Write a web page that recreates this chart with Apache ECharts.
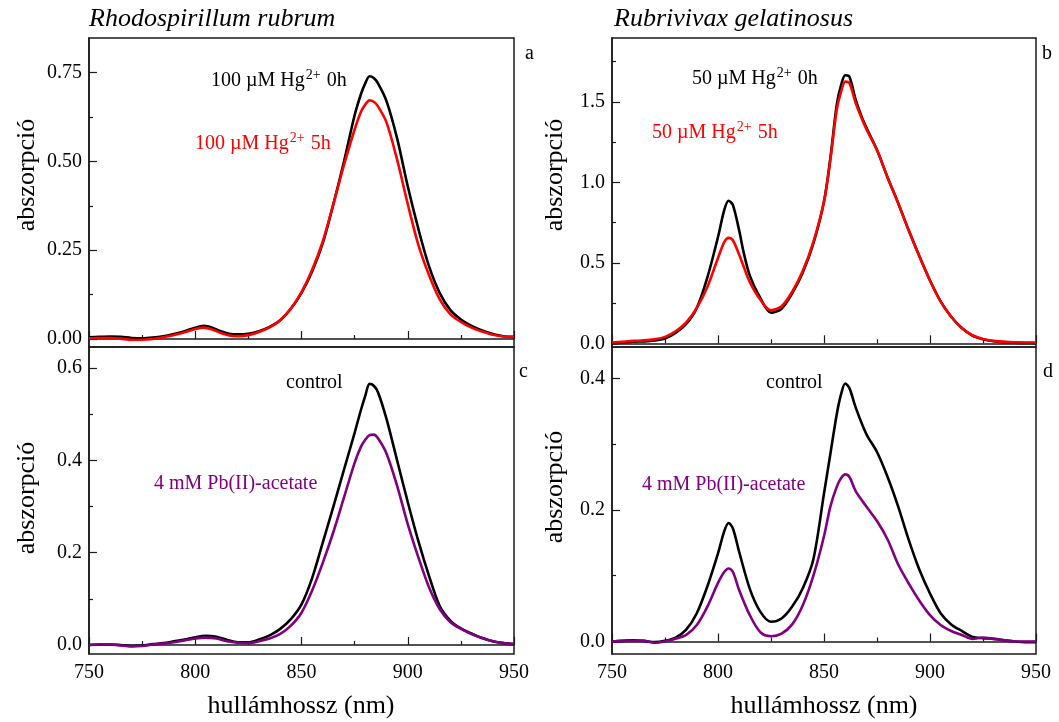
<!DOCTYPE html>
<html>
<head>
<meta charset="utf-8">
<script src="https://cdn.jsdelivr.net/npm/echarts@6/dist/echarts.min.js"></script>
<style>
  html, body { margin: 0; padding: 0; background: #fff; }
  #chart { width: 1059px; height: 722px; }
</style>
</head>
<body>
<div id="chart"></div>
<script>
// Absorption spectra (nm vs absorbance) for two purple bacteria.

// (a) Rhodospirillum rubrum, 100 µM Hg2+
const nmA = [750,755,760,765,770,775,780,785,790,795,800,804,808,812,816,820,825,830,835,840,845,850,855,860,865,870,875,878,880,882,884,886,890,895,900,905,910,915,920,925,930,935,940,945,950];
const absA0h = [0.005,0.006,0.007,0.006,0.003,0.002,0.004,0.008,0.014,0.022,0.032,0.037,0.032,0.022,0.015,0.013,0.015,0.022,0.034,0.053,0.085,0.13,0.19,0.27,0.38,0.50,0.63,0.69,0.72,0.74,0.735,0.72,0.67,0.565,0.43,0.31,0.205,0.13,0.082,0.055,0.037,0.024,0.014,0.008,0.006];
const absA5h = [0.002,0.003,0.003,0.001,-0.002,-0.002,0.0,0.005,0.011,0.019,0.028,0.032,0.027,0.017,0.010,0.008,0.011,0.020,0.033,0.053,0.086,0.132,0.195,0.275,0.38,0.49,0.59,0.64,0.66,0.672,0.668,0.655,0.61,0.505,0.38,0.265,0.18,0.112,0.07,0.048,0.032,0.021,0.012,0.007,0.006];

// (b) Rubrivivax gelatinosus, 50 µM Hg2+
const nmB = [750,755,760,765,770,775,780,785,790,795,800,803,805,807,810,812,815,820,825,830,835,840,845,850,853,856,858,860,862,865,868,870,875,880,885,890,895,900,905,910,915,920,925,930,935,940,945,950];
const absB0h = [0.0,0.005,0.01,0.012,0.017,0.03,0.065,0.12,0.22,0.41,0.66,0.83,0.885,0.86,0.70,0.57,0.42,0.28,0.19,0.215,0.31,0.44,0.62,0.88,1.15,1.48,1.60,1.665,1.655,1.51,1.40,1.34,1.20,1.03,0.87,0.70,0.54,0.39,0.26,0.165,0.095,0.048,0.025,0.013,0.007,0.004,0.002,0.001];
const absB5h = [0.005,0.01,0.015,0.018,0.025,0.04,0.075,0.13,0.22,0.35,0.53,0.63,0.655,0.64,0.55,0.48,0.38,0.27,0.205,0.23,0.32,0.45,0.63,0.88,1.14,1.45,1.56,1.625,1.615,1.49,1.39,1.33,1.20,1.03,0.87,0.70,0.54,0.39,0.26,0.165,0.095,0.05,0.027,0.015,0.009,0.006,0.005,0.005];

// (c) Rhodospirillum rubrum, Pb(II)-acetate
const nmC = [750,755,760,765,770,775,780,785,790,795,800,805,810,815,820,825,830,835,840,845,850,855,860,865,870,875,878,880,882,884,886,890,895,900,905,910,915,920,925,930,935,940,945,950];
const absCcontrol = [0.0,0.001,0.001,0.0,-0.002,-0.001,0.002,0.004,0.008,0.012,0.017,0.02,0.018,0.011,0.006,0.006,0.012,0.021,0.035,0.056,0.088,0.145,0.222,0.30,0.38,0.46,0.51,0.54,0.566,0.562,0.548,0.49,0.40,0.31,0.225,0.15,0.085,0.053,0.036,0.025,0.015,0.008,0.004,0.002];
const absCpb = [0.0,0.001,0.001,-0.001,-0.003,-0.002,0.001,0.003,0.006,0.010,0.014,0.016,0.014,0.008,0.005,0.004,0.008,0.014,0.024,0.042,0.07,0.118,0.178,0.245,0.32,0.395,0.43,0.445,0.455,0.456,0.448,0.415,0.345,0.262,0.19,0.125,0.078,0.05,0.035,0.024,0.015,0.008,0.004,0.002];

// (d) Rubrivivax gelatinosus, Pb(II)-acetate
const nmD = [750,755,760,765,770,775,780,785,790,795,800,803,805,807,810,815,820,825,830,835,840,845,850,853,856,858,860,862,865,870,875,880,885,890,895,900,905,910,915,920,925,930,935,940,945,950];
const absDcontrol = [0.0,0.001,0.002,0.001,-0.001,0.001,0.006,0.018,0.043,0.084,0.134,0.168,0.18,0.172,0.136,0.08,0.045,0.03,0.035,0.053,0.081,0.125,0.225,0.285,0.345,0.375,0.392,0.385,0.355,0.315,0.288,0.25,0.205,0.154,0.109,0.073,0.043,0.026,0.016,0.007,0.005,0.004,0.002,0.0,-0.001,-0.001];
const absDpb = [0.0,0.001,0.001,0.001,-0.002,0.0,0.004,0.01,0.025,0.053,0.089,0.106,0.111,0.106,0.078,0.04,0.014,0.008,0.012,0.026,0.055,0.10,0.16,0.205,0.235,0.248,0.254,0.25,0.228,0.205,0.183,0.155,0.117,0.088,0.062,0.04,0.025,0.016,0.01,0.004,0.006,0.004,0.002,0.0,0.0,0.0];

// Axis ticks
const xTicks = [750, 800, 850, 900, 950];
const yTicksA = [0, 0.25, 0.5, 0.75];
const yMinorA = [0.125, 0.375, 0.625];
const yTicksB = [0, 0.5, 1.0, 1.5];
const yMinorB = [0.25, 0.75, 1.25, 1.75];
const yTicksC = [0, 0.2, 0.4, 0.6];
const yMinorC = [0.1, 0.3, 0.5];
const yTicksD = [0, 0.2, 0.4];
const yMinorD = [0.1, 0.3];

const SERIF = '"Liberation Serif", "Times New Roman", serif';
const AXIS_COLOR = '#1a1a1a';
const BLACK = '#000000';
const RED = '#ff0000';
const PURPLE = '#800080';

const pair = (xs, ys) => xs.map((x, i) => [x, ys[i]]);

const grids = [
  { left: 89,  top: 38,  width: 425, height: 309 },
  { left: 612, top: 38,  width: 424, height: 309 },
  { left: 89,  top: 347, width: 425, height: 307 },
  { left: 612, top: 347, width: 424, height: 307 }
];

const panels = [
  { min: -0.0225, max: 0.8476, major: yTicksA, minor: yMinorA, dec: 2 },
  { min: -0.023,  max: 1.896,  major: yTicksB, minor: yMinorB, dec: 1 },
  { min: -0.0195, max: 0.646,  major: yTicksC, minor: yMinorC, dec: 1 },
  { min: -0.019,  max: 0.4475, major: yTicksD, minor: yMinorD, dec: 1 }
];

const xAxes = grids.map((g, i) => ({
  type: 'value', gridIndex: i, min: xTicks[0], max: xTicks[xTicks.length - 1], interval: 50,
  position: 'bottom',
  axisLine: { show: true, lineStyle: { color: AXIS_COLOR, width: 1.5 } },
  axisTick: { show: true, inside: true, length: 8, lineStyle: { color: AXIS_COLOR, width: 1.2 } },
  minorTick: { show: true, splitNumber: 2, length: 4, lineStyle: { color: AXIS_COLOR, width: 1.2 } },
  axisLabel: { show: i >= 2, color: '#000', fontFamily: SERIF, fontSize: 20, margin: 9 },
  splitLine: { show: false }
}));

const yAxes = [];
panels.forEach((p, i) => {
  // labelled axis with the major ticks
  yAxes.push({
    type: 'value', gridIndex: i, min: p.min, max: p.max, position: 'left',
    axisLine: { show: true, lineStyle: { color: AXIS_COLOR, width: 1.5 } },
    axisTick: { show: true, inside: true, length: 8, customValues: p.major, lineStyle: { color: AXIS_COLOR, width: 1.2 } },
    axisLabel: { show: true, customValues: p.major, color: '#000', fontFamily: SERIF, fontSize: 20, margin: 7,
                 formatter: v => Number(v).toFixed(p.dec) },
    splitLine: { show: false }
  });
  // companion axis carrying only the short minor ticks
  yAxes.push({
    type: 'value', gridIndex: i, min: p.min, max: p.max, position: 'left', offset: 0,
    axisLine: { show: false },
    axisTick: { show: true, inside: true, length: 4, customValues: p.minor, lineStyle: { color: AXIS_COLOR, width: 1.2 } },
    axisLabel: { show: false },
    splitLine: { show: false }
  });
});

function line(name, gi, xs, ys, color) {
  return {
    name, type: 'line', xAxisIndex: gi, yAxisIndex: gi * 2,
    data: pair(xs, ys), smooth: 0.3, showSymbol: false, symbol: 'none',
    lineStyle: { color, width: 2.6 }, itemStyle: { color }, z: 3
  };
}

const series = [
  line('100 µM Hg2+ 0h', 0, nmA, absA0h, BLACK),
  line('100 µM Hg2+ 5h', 0, nmA, absA5h, RED),
  line('50 µM Hg2+ 0h', 1, nmB, absB0h, BLACK),
  line('50 µM Hg2+ 5h', 1, nmB, absB5h, RED),
  line('control', 2, nmC, absCcontrol, BLACK),
  line('4 mM Pb(II)-acetate', 2, nmC, absCpb, PURPLE),
  line('control', 3, nmD, absDcontrol, BLACK),
  line('4 mM Pb(II)-acetate', 3, nmD, absDpb, PURPLE)
];

function txt(text, x, y, opts) {
  opts = opts || {};
  return {
    type: 'text', x, y, rotation: opts.rotation || 0, z: 10,
    style: Object.assign({
      text, fill: opts.color || '#000',
      font: (opts.italic ? 'italic ' : '') + (opts.size || 20) + 'px ' + SERIF,
      align: opts.align || 'left', verticalAlign: 'middle',
      textAlign: opts.align || 'left', textVerticalAlign: 'middle'
    }, opts.rich ? { rich: opts.rich } : {})
  };
}

const supRich = color => ({
  sup: { fontSize: 14, fontFamily: SERIF, fill: color, color: color, verticalAlign: 'top', padding: [0, 1, 12, 1] }
});

const graphic = [
  txt('Rhodospirillum rubrum', 89, 19, { italic: true, size: 26 }),
  txt('Rubrivivax gelatinosus', 614, 19, { italic: true, size: 26 }),
  txt('a', 525, 54), txt('b', 1042, 54), txt('c', 519, 372), txt('d', 1043, 372),
  txt('abszorpció', 27, 175, { size: 26, align: 'center', rotation: Math.PI / 2 }),
  txt('abszorpció', 27, 498, { size: 26, align: 'center', rotation: Math.PI / 2 }),
  txt('abszorpció', 555, 175, { size: 26, align: 'center', rotation: Math.PI / 2 }),
  txt('abszorpció', 555, 487, { size: 26, align: 'center', rotation: Math.PI / 2 }),
  txt('hullámhossz (nm)', 301, 706, { size: 26, align: 'center' }),
  txt('hullámhossz (nm)', 824, 706, { size: 26, align: 'center' }),
  txt('100 µM Hg{sup|2+} 0h', 211, 81, { rich: supRich(BLACK) }),
  txt('100 µM Hg{sup|2+} 5h', 195, 144, { color: RED, rich: supRich(RED) }),
  txt('50 µM Hg{sup|2+} 0h', 692, 79, { rich: supRich(BLACK) }),
  txt('50 µM Hg{sup|2+} 5h', 652, 133, { color: RED, rich: supRich(RED) }),
  txt('control', 286, 383),
  txt('4 mM Pb(II)-acetate', 154, 484, { color: PURPLE }),
  txt('control', 766, 383),
  txt('4 mM Pb(II)-acetate', 642, 485, { color: PURPLE })
];

const chart = echarts.init(document.getElementById('chart'), null, { renderer: 'canvas' });
chart.setOption({
  animation: false,
  backgroundColor: '#ffffff',
  grid: grids.map(g => Object.assign({ show: true, borderColor: AXIS_COLOR, borderWidth: 1.5, backgroundColor: 'transparent' }, g)),
  xAxis: xAxes,
  yAxis: yAxes,
  series,
  graphic
});
</script>
</body>
</html>
